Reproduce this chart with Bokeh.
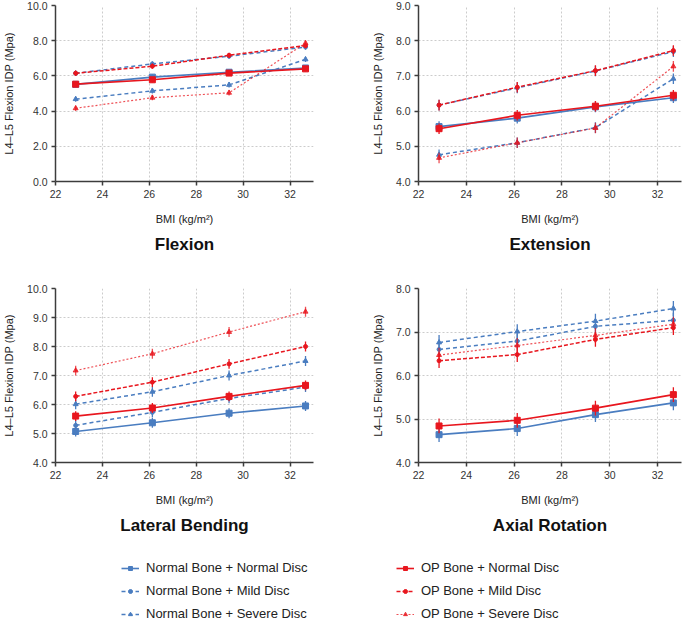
from bokeh.plotting import figure
from bokeh.layouts import column, row
from bokeh.models import (ColumnDataSource, Range1d, FixedTicker, NumeralTickFormatter,
                          Title, Legend, LegendItem)
from bokeh.embed import file_html
from bokeh.resources import INLINE

# BMI values of the four models
bmi = [22.86, 26.13, 29.40, 32.66]

# Intradiscal pressure (MPa) per loading case
flex_nn = [5.52, 5.93, 6.21, 6.45]
flex_nm = [6.15, 6.68, 7.12, 7.64]
flex_ns = [4.68, 5.15, 5.49, 6.94]
flex_on = [5.53, 5.78, 6.16, 6.40]
flex_om = [6.15, 6.55, 7.17, 7.72]
flex_os = [4.16, 4.76, 5.04, 7.86]

ext_nn = [5.56, 5.80, 6.12, 6.38]
ext_nm = [6.17, 6.66, 7.14, 7.69]
ext_ns = [4.76, 5.10, 5.53, 6.92]
ext_on = [5.50, 5.88, 6.14, 6.45]
ext_om = [6.17, 6.68, 7.15, 7.72]
ext_os = [4.67, 5.10, 5.52, 7.27]

lat_nn = [5.07, 5.37, 5.70, 5.95]
lat_nm = [5.28, 5.73, 6.21, 6.60]
lat_ns = [6.01, 6.44, 7.00, 7.50]
lat_on = [5.60, 5.88, 6.28, 6.66]
lat_om = [6.28, 6.77, 7.40, 8.00]
lat_os = [7.17, 7.75, 8.50, 9.20]

axr_nn = [4.64, 4.78, 5.10, 5.37]
axr_nm = [6.60, 6.79, 7.13, 7.27]
axr_ns = [6.76, 7.01, 7.25, 7.54]
axr_on = [4.84, 4.97, 5.25, 5.56]
axr_om = [6.34, 6.48, 6.83, 7.10]
axr_os = [6.47, 6.69, 6.92, 7.18]

# error-bar half widths (MPa) per loading case
err_flex = 0.15
err_ext = 0.15
err_lat = 0.17
err_axr = 0.17

series_names = ["Normal Bone + Normal Disc", "Normal Bone + Mild Disc", "Normal Bone + Severe Disc",
                "OP Bone + Normal Disc", "OP Bone + Mild Disc", "OP Bone + Severe Disc"]

x_ticks = [22, 24, 26, 28, 30, 32]

BLUE = "#4a7dc0"
RED = "#e8161e"
FONT = "Liberation Sans"

# colour, line dash, marker, size, width, alpha per series
styles = [
    (BLUE, "solid", "square", 6, 1.6, 1.0),
    (BLUE, "4 3", "circle", 4, 1.5, 1.0),
    (BLUE, "4 3", "triangle", 5, 1.5, 1.0),
    (RED, "solid", "square", 6, 1.6, 1.0),
    (RED, "4 2", "circle", 4, 1.5, 1.0),
    (RED, "2 2", "triangle", 5, 1.2, 0.75),
]


def panel(title, ys, err, y0, y1, ystep, width, height, left, right, top, bottom):
    p = figure(width=width, height=height, output_backend="svg", toolbar_location=None,
               x_range=Range1d(22, 33), y_range=Range1d(y0, y1),
               min_border_left=left, min_border_right=right,
               min_border_top=top, min_border_bottom=bottom)
    p.outline_line_color = None
    for vals, st in zip(ys, styles):
        color, dash, marker, size, lw, alpha = st
        src = ColumnDataSource(dict(x=bmi, y=vals,
                                    lo=[v - err for v in vals], hi=[v + err for v in vals]))
        p.segment(x0="x", y0="lo", x1="x", y1="hi", source=src, line_color=color,
                  line_width=1.3, line_alpha=alpha)
        p.line("x", "y", source=src, line_color=color, line_dash=dash, line_width=lw,
               line_alpha=alpha)
        p.scatter("x", "y", source=src, marker=marker, size=size, fill_color=color,
                  line_color=color, fill_alpha=alpha, line_alpha=alpha)

    ticks = []
    v = y0
    while v <= y1 + 1e-9:
        ticks.append(round(v, 3))
        v += ystep
    for ax in (p.xaxis[0], p.yaxis[0]):
        ax.axis_line_color = "#3c3c3c"
        ax.axis_line_width = 1.5
        ax.major_tick_line_color = "#3c3c3c"
        ax.major_tick_line_width = 1.5
        ax.major_tick_out = 4
        ax.major_tick_in = 0
        ax.minor_tick_line_color = None
        ax.major_label_text_font = FONT
        ax.major_label_text_font_size = "10.5px"
        ax.major_label_text_color = "#333333"
        ax.major_label_standoff = 4
        ax.axis_label_text_font = FONT
        ax.axis_label_text_font_size = "11px"
        ax.axis_label_text_font_style = "normal"
        ax.axis_label_text_color = "#222222"
    p.xaxis.ticker = FixedTicker(ticks=x_ticks)
    p.yaxis.ticker = FixedTicker(ticks=ticks)
    p.yaxis.formatter = NumeralTickFormatter(format="0.0")
    p.xaxis.axis_label = "BMI (kg/m²)"
    p.yaxis.axis_label = "L4–L5 Flexion IDP (Mpa)"
    p.xaxis.axis_label_standoff = 12
    p.yaxis.axis_label_standoff = 9
    for g in (p.xgrid[0], p.ygrid[0]):
        g.grid_line_color = "#cccccc"
        g.grid_line_dash = "2 2"
        g.grid_line_width = 1
    p.add_layout(Title(text=title, align="center", text_font=FONT, text_font_size="17px",
                       text_font_style="bold", text_color="#111111", standoff=11), "below")
    return p


p1 = panel("Flexion", [flex_nn, flex_nm, flex_ns, flex_on, flex_om, flex_os], err_flex,
           0, 10, 2, 341, 265, 50, 28, 5, 84)
p2 = panel("Extension", [ext_nn, ext_nm, ext_ns, ext_on, ext_om, ext_os], err_ext,
           4, 9, 1, 341, 265, 77, 1, 5, 84)
p3 = panel("Lateral Bending", [lat_nn, lat_nm, lat_ns, lat_on, lat_om, lat_os], err_lat,
           4, 10, 1, 341, 275, 50, 28, 23, 77)
p4 = panel("Axial Rotation", [axr_nn, axr_nm, axr_ns, axr_on, axr_om, axr_os], err_axr,
           4, 8, 1, 341, 275, 77, 1, 23, 77)

# shared legend underneath the four panels; its sample glyphs sit outside the visible range
leg = figure(width=682, height=80, output_backend="svg", toolbar_location=None,
             x_range=Range1d(0, 1), y_range=Range1d(0, 1),
             min_border_left=0, min_border_right=0, min_border_top=0, min_border_bottom=0)
leg.outline_line_color = None
leg.xaxis.visible = False
leg.yaxis.visible = False
leg.xgrid.visible = False
leg.ygrid.visible = False
items = []
for name, st in zip(series_names, styles):
    color, dash, marker, size, lw, alpha = st
    src = ColumnDataSource(dict(x=[-5, -4], y=[-5, -5]))
    r1 = leg.line("x", "y", source=src, line_color=color, line_dash=dash, line_width=lw,
                  line_alpha=alpha)
    r2 = leg.scatter("x", "y", source=src, marker=marker, size=size, fill_color=color,
                     line_color=color, fill_alpha=alpha, line_alpha=alpha)
    items.append(LegendItem(label=name, renderers=[r1, r2]))

for group, xloc in ((items[:3], 121), (items[3:], 396)):
    lg = Legend(items=group, location=(xloc, -1), padding=0, margin=0, spacing=8,
                glyph_width=18, glyph_height=10, label_height=10, label_standoff=7,
                label_text_font=FONT, label_text_font_size="13px", label_text_color="#222222",
                border_line_color=None, background_fill_alpha=0)
    leg.add_layout(lg)

page = column(row(p1, p2), row(p3, p4), leg)
open("out.html", "w").write(file_html(page, INLINE))
